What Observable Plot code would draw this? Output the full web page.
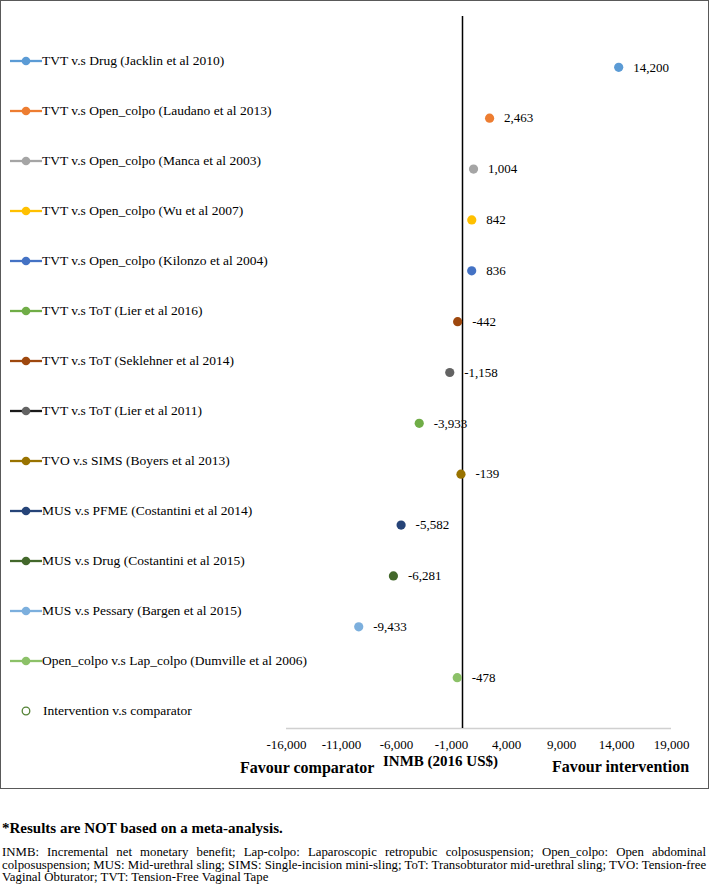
<!DOCTYPE html>
<html>
<head>
<meta charset="utf-8">
<script src="https://cdn.jsdelivr.net/npm/d3@7"></script>
<script src="https://cdn.jsdelivr.net/npm/@observablehq/plot@0.6"></script>
<style>
  html, body { margin: 0; padding: 0; background: #fff; }
  #root { position: relative; width: 710px; height: 886px; background: #fff; font-family: "Liberation Serif", "Times New Roman", serif; color: #000; overflow: hidden; }
  #frame { position: absolute; left: 0; top: 0; width: 709px; height: 789px; box-sizing: border-box; border: 1.5px solid #595959; }
  #chart { position: absolute; left: 0; top: 0; }
  .lg { position: absolute; left: 0; height: 20px; display: flex; align-items: center; font-size: 13.5px; white-space: nowrap; }
  .lg svg { display: block; }
  .lab { position: absolute; font-weight: bold; white-space: nowrap; }
  #note { position: absolute; left: 2px; top: 820px; font-weight: bold; font-size: 15px; }
  #abbr { position: absolute; left: 2px; top: 846px; width: 704px; font-size: 12.8px; line-height: 12.7px; }
  #abbr div { white-space: nowrap; }
  #abbr div.j { text-align: justify; text-align-last: justify; }
</style>
</head>
<body>
<div id="root">
  <div id="chart"></div>
  <div id="legend"></div>
  <div class="lab" id="favC" style="left:240px; top:759px; font-size:16px;">Favour comparator</div>
  <div class="lab" id="xlab" style="left:383px; top:753px; font-size:15px;">INMB (2016 US$)</div>
  <div class="lab" id="favI" style="left:552px; top:758px; font-size:16px;">Favour intervention</div>
  <div id="frame"></div>
  <div id="note">*Results are NOT based on a meta-analysis.</div>
  <div id="abbr">
    <div class="j">INMB: Incremental net monetary benefit; Lap-colpo: Laparoscopic retropubic colposuspension; Open_colpo: Open abdominal</div>
    <div class="j">colposuspension; MUS: Mid-urethral sling; SIMS: Single-incision mini-sling; ToT: Transobturator mid-urethral sling; TVO: Tension-free</div>
    <div>Vaginal Obturator; TVT: Tension-Free Vaginal Tape</div>
  </div>
</div>
<script>
// ---- data ----
const studies = [
  "TVT v.s Drug (Jacklin et al 2010)",
  "TVT v.s Open_colpo (Laudano et al 2013)",
  "TVT v.s Open_colpo (Manca et al 2003)",
  "TVT v.s Open_colpo (Wu et al 2007)",
  "TVT v.s Open_colpo (Kilonzo et al 2004)",
  "TVT v.s ToT (Lier et al 2016)",
  "TVT v.s ToT (Seklehner et al 2014)",
  "TVT v.s ToT (Lier et al 2011)",
  "TVO v.s SIMS (Boyers et al 2013)",
  "MUS v.s PFME (Costantini et al 2014)",
  "MUS v.s Drug (Costantini et al 2015)",
  "MUS v.s Pessary (Bargen et al 2015)",
  "Open_colpo v.s Lap_colpo (Dumville et al 2006)"
];
const inmb = [14200, 2463, 1004, 842, 836, -442, -1158, -3933, -139, -5582, -6281, -9433, -478];
const pointColors = ["#5B9BD5", "#ED7D31", "#A5A5A5", "#FFC000", "#4472C4", "#9E480E", "#636363", "#70AD47", "#997300", "#264478", "#43682B", "#7CAFDD", "#8CC168"];
const legendLineColors = ["#5B9BD5", "#ED7D31", "#A5A5A5", "#FFC000", "#4472C4", "#70AD47", "#9E480E", "#1a1a1a", "#997300", "#264478", "#43682B", "#7CAFDD", "#8CC168"];
const legendMarkerColors = ["#5B9BD5", "#ED7D31", "#A5A5A5", "#FFC000", "#4472C4", "#70AD47", "#9E480E", "#636363", "#997300", "#264478", "#43682B", "#7CAFDD", "#8CC168"];
const legendExtra = "Intervention v.s comparator";
const xTicks = [-16000, -11000, -6000, -1000, 4000, 9000, 14000, 19000];

// ---- build ----
const fmt = v => d3.format(",")(v).replace("\u2212", "-");
const data = studies.map((s, i) => ({study: s, inmb: inmb[i], row: studies.length - i, color: pointColors[i]}));

const chart = Plot.plot({
  width: 710,
  height: 790,
  marginLeft: 286,
  marginRight: 39,
  marginTop: 16,
  marginBottom: 62,
  style: {fontFamily: "'Liberation Serif', 'Times New Roman', serif", fontSize: "13px", color: "#000", background: "transparent", overflow: "visible"},
  x: {domain: [-16000, 19000]},
  y: {domain: [0, 14], axis: null},
  marks: [
    Plot.ruleY([0], {stroke: "#d0d0d0", strokeWidth: 1.3}),
    Plot.ruleX([0], {y1: 0, y2: 14, stroke: "#000", strokeWidth: 1.5}),
    Plot.axisX({ticks: xTicks, tickFormat: fmt, tickSize: 0, tickPadding: 11, fontSize: 13, label: null}),
    Plot.dot(data, {x: "inmb", y: "row", r: 4.6, fill: "color", stroke: null}),
    Plot.text(data, {x: "inmb", y: "row", text: d => fmt(d.inmb), dx: 14.5, textAnchor: "start", fontSize: 13, fill: "#000"})
  ]
});
document.getElementById("chart").appendChild(chart);

// legend
const lg = document.getElementById("legend");
const ns = "http://www.w3.org/2000/svg";
const legendTop = 61, legendStep = 50;
studies.forEach((s, i) => {
  const item = document.createElement("div");
  item.className = "lg";
  item.style.top = (legendTop + i * legendStep - 10) + "px";
  const svg = document.createElementNS(ns, "svg");
  svg.setAttribute("width", 42); svg.setAttribute("height", 20);
  const ln = document.createElementNS(ns, "line");
  ln.setAttribute("x1", 10); ln.setAttribute("x2", 42); ln.setAttribute("y1", 10); ln.setAttribute("y2", 10);
  ln.setAttribute("stroke", legendLineColors[i]); ln.setAttribute("stroke-width", 2.3);
  const c = document.createElementNS(ns, "circle");
  c.setAttribute("cx", 26); c.setAttribute("cy", 10); c.setAttribute("r", 4.3);
  c.setAttribute("fill", legendMarkerColors[i]);
  svg.appendChild(ln); svg.appendChild(c);
  const t = document.createElement("span");
  t.textContent = s;
  item.appendChild(svg); item.appendChild(t);
  lg.appendChild(item);
});
{
  const i = studies.length;
  const item = document.createElement("div");
  item.className = "lg";
  item.style.top = (legendTop + i * legendStep - 10) + "px";
  const svg = document.createElementNS(ns, "svg");
  svg.setAttribute("width", 43); svg.setAttribute("height", 20);
  const c = document.createElementNS(ns, "circle");
  c.setAttribute("cx", 26); c.setAttribute("cy", 10); c.setAttribute("r", 3.8);
  c.setAttribute("fill", "#fff"); c.setAttribute("stroke", "#548235"); c.setAttribute("stroke-width", 1.3);
  svg.appendChild(c);
  const t = document.createElement("span");
  t.textContent = legendExtra;
  item.appendChild(svg); item.appendChild(t);
  lg.appendChild(item);
}
</script>
</body>
</html>
